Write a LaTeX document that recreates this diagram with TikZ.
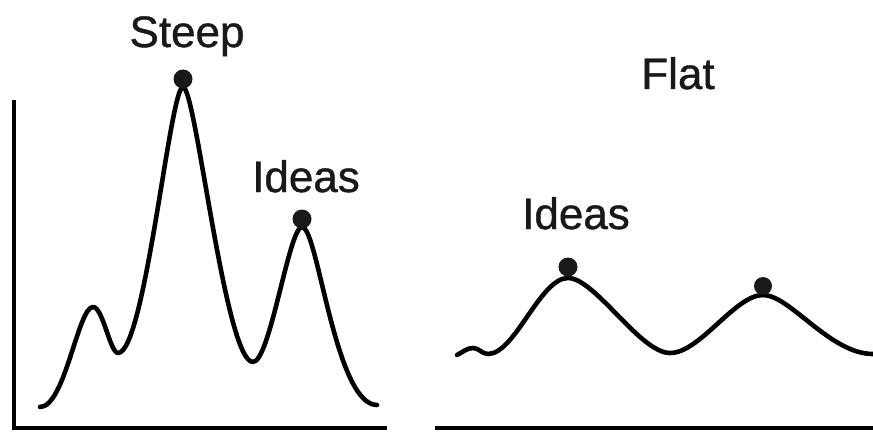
\documentclass[tikz,border=0pt]{standalone}
\usepackage{fontspec}
\setmainfont{Liberation Sans}
\newfontfamily\lblfont{Liberation Sans}[FakeBold=0.9]
\begin{document}
\begin{tikzpicture}[x=1pt,y=1pt,
  axisline/.style={line width=4.4pt},
  curveline/.style={line width=4.6pt, line cap=round, line join=round},
  ideadot/.style={circle, fill=black!90, inner sep=0pt, minimum size=19pt},
  lbl/.style={font=\lblfont\fontsize{44}{50}\selectfont, anchor=base, inner sep=0pt, text=black!90}]
\useasboundingbox (0,0) rectangle (873,432);
\fill[white] (0,0) rectangle (873,432);
% axes
\coordinate (ltop) at (14,332);
\coordinate (lorig) at (14,4);
\coordinate (lend) at (387,4);
\coordinate (rstart) at (435,4);
\coordinate (rend) at (873,4);
\draw[axisline] (ltop) -- (lorig) -- (lend);
\draw[axisline] (rstart) -- (rend);
% left curve
\draw[curveline] (40,25) .. controls (65,25) and (78,125) .. (93,125)
  .. controls (103,125) and (110,79) .. (118,79)
  .. controls (145,79) and (170,345) .. (183,345)
  .. controls (196,345) and (225,70) .. (253,70)
  .. controls (270,70) and (289,205) .. (302,205)
  .. controls (318,205) and (335,27) .. (377,27);
% right curve
\draw[curveline] (457,77) .. controls (463,80) and (467,84) .. (473,84)
  .. controls (479,84) and (482,78) .. (488,78)
  .. controls (515,78) and (540,154) .. (568,154)
  .. controls (595,154) and (640,79) .. (670,79)
  .. controls (700,79) and (735,137) .. (763,137)
  .. controls (790,137) and (830,78) .. (873,78);
% dots
\node[ideadot] (d1) at (183,353) {};
\node[ideadot] (d2) at (302,213) {};
\node[ideadot] (d3) at (568,165) {};
\node[ideadot, minimum size=18pt] (d4) at (763,146) {};
% labels
\node[lbl] (steep) at (187,385) {Steep};
\node[lbl] (ideasl) at (306,240) {Ideas};
\node[lbl] (flat) at (678,343) {Flat};
\node[lbl] (ideasr) at (576,203) {Ideas};
\end{tikzpicture}
\end{document}
